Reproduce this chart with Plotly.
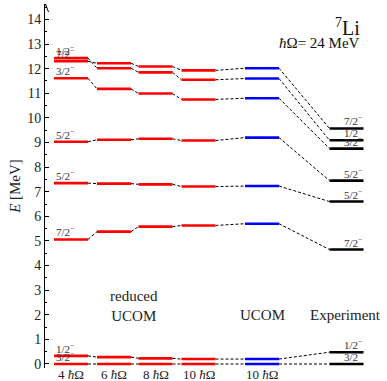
import plotly.graph_objects as go

# ---- data ----
states = ["3/2", "1/2", "7/2", "5/2", "5/2", "3/2", "1/2", "7/2"]
columns = ["4 ħΩ", "6 ħΩ", "8 ħΩ", "10 ħΩ", "10 ħΩ", "Experiment"]
red_4 = [0.00, 0.33, 5.06, 7.35, 9.03, 11.61, 12.43, 12.30]
red_6 = [0.00, 0.28, 5.38, 7.33, 9.11, 11.18, 12.02, 12.22]
red_8 = [0.00, 0.23, 5.58, 7.30, 9.15, 10.99, 11.85, 12.09]
red_10 = [0.00, 0.20, 5.63, 7.21, 9.08, 10.75, 11.55, 11.93]
ucom_10 = [0.00, 0.20, 5.70, 7.23, 9.20, 10.80, 11.60, 12.02]
experiment = [0.00, 0.48, 4.65, 6.60, 7.45, 8.75, 9.09, 9.57]
col1_label_levels = [0.00, 0.33, 5.06, 7.35, 9.03, 11.61, 12.43, 12.30]
y_ticks = list(range(0, 15))

# ---- layout params (pixel-like x coordinates) ----
centers = [71, 114, 155.5, 198.5, 262, 346.5]
hw = 17
colors = ["#ff0000", "#ff0000", "#ff0000", "#ff0000", "#0000ff", "#000000"]
series = [red_4, red_6, red_8, red_10, ucom_10, experiment]

fig = go.Figure()

# dashed connectors
for i in range(len(series) - 1):
    xs, ys = [], []
    for a, b in zip(series[i], series[i + 1]):
        xs += [centers[i] + hw, centers[i + 1] - hw, None]
        ys += [a, b, None]
    fig.add_trace(go.Scatter(x=xs, y=ys, mode="lines",
                             line=dict(color="black", width=1, dash="3px,2px"),
                             hoverinfo="skip", showlegend=False))

# level lines
for c, vals, col in zip(centers, series, colors):
    xs, ys = [], []
    for v in vals:
        xs += [c - hw, c + hw, None]
        ys += [v, v, None]
    fig.add_trace(go.Scatter(x=xs, y=ys, mode="lines",
                             line=dict(color=col, width=2.6),
                             hoverinfo="skip", showlegend=False))

ann = []
lab_font = dict(family="Liberation Serif", size=11, color="#333333")
for s, v in zip(states, col1_label_levels):
    ann.append(dict(x=centers[0] - hw, y=v, xref="x", yref="y",
                    text=s + "<sup>−</sup>", showarrow=False,
                    xanchor="left", yanchor="bottom", yshift=-1, font=lab_font))
for s, v in zip(states, experiment):
    ann.append(dict(x=centers[5] + hw, y=v, xref="x", yref="y",
                    text=s + "<sup>−</sup>", showarrow=False,
                    xanchor="right", yanchor="bottom", yshift=-1, font=lab_font))

# column labels
col_font = dict(family="Liberation Serif", size=13, color="#222222")
for c, name in zip(centers[:5], columns[:5]):
    num, rest = name.split(" ")
    ann.append(dict(x=c, y=-0.018, xref="x", yref="paper",
                    text=num + " <i>ħ</i>Ω", showarrow=False,
                    xanchor="center", yanchor="middle", font=col_font))

big = dict(family="Liberation Serif", size=15, color="#222222")
ann.append(dict(x=134, y=2.35, xref="x", yref="y", text="reduced<br>UCOM",
                showarrow=False, xanchor="center", yanchor="middle", font=big))
ann.append(dict(x=262, y=1.98, xref="x", yref="y", text="UCOM",
                showarrow=False, xanchor="center", yanchor="middle", font=big))
ann.append(dict(x=345, y=1.98, xref="x", yref="y", text=columns[5],
                showarrow=False, xanchor="center", yanchor="middle", font=big))
ann.append(dict(x=362, y=13.68, xref="x", yref="y", text="<sup>7</sup>Li",
                showarrow=False, xanchor="right", yanchor="middle",
                font=dict(family="Liberation Serif", size=20, color="#111111")))
ann.append(dict(x=362, y=13.05, xref="x", yref="y", text="<i>ħ</i>Ω= 24 MeV",
                showarrow=False, xanchor="right", yanchor="middle",
                font=dict(family="Liberation Serif", size=15, color="#111111")))

fig.update_layout(
    width=387, height=381,
    margin=dict(l=45, r=0, t=4, b=13),
    plot_bgcolor="white", paper_bgcolor="white",
    annotations=ann,
    xaxis=dict(range=[45, 387], visible=False, fixedrange=True),
    yaxis=dict(range=[-0.163, 14.628], tickvals=y_ticks,
               ticks="inside", ticklen=4, tickcolor="black",
               showline=True, linecolor="black", linewidth=1,
               showgrid=False, zeroline=False,
               minor=dict(dtick=0.5, ticks="inside", ticklen=2, tickcolor="black"),
               tickfont=dict(family="Liberation Serif", size=14, color="#222222"),
               title=dict(text="<i>E</i> [MeV]", standoff=2,
                          font=dict(family="Liberation Serif", size=15, color="#222222"))),
    shapes=[
        dict(type="line", xref="x", yref="y", x0=45.5, x1=42.5, y0=14.628, y1=14.3,
             line=dict(color="black", width=1)),
        dict(type="line", xref="x", yref="y", x0=45.5, x1=48.5, y0=14.628, y1=14.3,
             line=dict(color="black", width=1)),
    ],
)

fig.write_html("out.html", config={"displayModeBar": False},
               post_script="document.body.style.margin='0';")
